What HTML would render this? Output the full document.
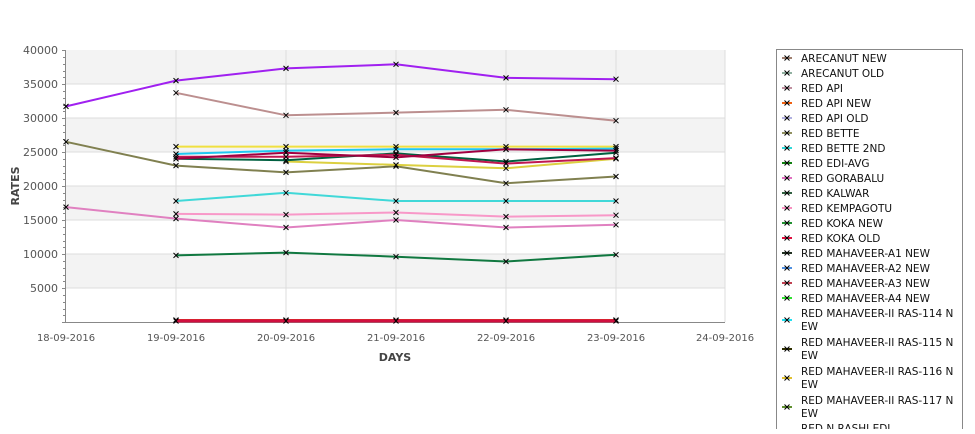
<!DOCTYPE html>
<html><head><meta charset="utf-8"><style>
body{margin:0;background:#fff;width:975px;height:429px;overflow:hidden}
svg text{font-family:"DejaVu Sans","Liberation Sans",sans-serif}
</style></head><body>
<svg width="975" height="429" xmlns="http://www.w3.org/2000/svg">
<defs><marker id="m" markerWidth="8" markerHeight="8" refX="4" refY="4" markerUnits="userSpaceOnUse"><path d="M1.5,1.5L6.5,6.5M6.5,1.5L1.5,6.5" stroke="#000" stroke-width="1"/></marker></defs>
<rect x="66" y="50" width="659" height="34" fill="#f3f3f3"/>
<rect x="66" y="118" width="659" height="34" fill="#f3f3f3"/>
<rect x="66" y="186" width="659" height="34" fill="#f3f3f3"/>
<rect x="66" y="254" width="659" height="34" fill="#f3f3f3"/>
<g stroke="#dcdcdc" stroke-width="1">
<path d="M66,84H725M66,118H725M66,152H725M66,186H725M66,220H725M66,254H725M66,288H725"/>
<path d="M176,50V322M286,50V322M396,50V322M506,50V322M616,50V322M725,50V322"/>
</g>
<g stroke="#888" fill="none"><path d="M65.5,50V322.5H725"/>
<path d="M62,50.5H66M62,84.5H66M62,118.5H66M62,152.5H66M62,186.5H66M62,220.5H66M62,254.5H66M62,288.5H66M62,322.5H66"/>
<path d="M63,57.5H66M63,64.5H66M63,71.5H66M63,77.5H66M63,91.5H66M63,98.5H66M63,105.5H66M63,111.5H66M63,125.5H66M63,132.5H66M63,139.5H66M63,145.5H66M63,159.5H66M63,166.5H66M63,173.5H66M63,179.5H66M63,193.5H66M63,200.5H66M63,207.5H66M63,213.5H66M63,227.5H66M63,234.5H66M63,241.5H66M63,247.5H66M63,261.5H66M63,268.5H66M63,275.5H66M63,281.5H66M63,295.5H66M63,302.5H66M63,309.5H66M63,315.5H66"/></g>
<g font-size="11" fill="#555" text-anchor="end">
<text x="58" y="54">40000</text><text x="58" y="88">35000</text><text x="58" y="122">30000</text><text x="58" y="156">25000</text><text x="58" y="190">20000</text><text x="58" y="224">15000</text><text x="58" y="258">10000</text><text x="58" y="292">5000</text>
</g>
<g font-size="10" fill="#555" text-anchor="middle">
<text x="66" y="341">18-09-2016</text><text x="176" y="341">19-09-2016</text><text x="286" y="341">20-09-2016</text><text x="396" y="341">21-09-2016</text><text x="506" y="341">22-09-2016</text><text x="616" y="341">23-09-2016</text><text x="725" y="341">24-09-2016</text>
</g>
<text x="395" y="361" font-size="11" font-weight="bold" fill="#444" text-anchor="middle">DAYS</text>
<text x="19" y="186" font-size="11" font-weight="bold" fill="#444" text-anchor="middle" transform="rotate(-90 19 186)">RATES</text>
<g fill="none" stroke-width="2" marker-start="url(#m)" marker-mid="url(#m)" marker-end="url(#m)">
<polyline stroke="#a020f0" points="66,106.4 176,80.6 286,68.4 396,64.3 506,77.9 616,79.2"/>
<polyline stroke="#bc8f8f" points="176,92.8 286,115.3 396,112.6 506,109.8 616,120.7"/>
<polyline stroke="#808050" points="66,141.8 176,165.6 286,172.4 396,166.3 506,183.3 616,176.5"/>
<polyline stroke="#f0e040" points="176,146.6 286,146.6 396,146.6 506,146.6 616,146.6"/>
<polyline stroke="#20c8f0" points="176,154 286,150.6 396,149.3 506,149.3 616,148.6"/>
<polyline stroke="#dcd040" points="286,161.5 396,164.9 506,168.3 616,158.8"/>
<polyline stroke="#006040" points="176,158.8 286,160.2 396,153.4 506,161.5 616,152.7"/>
<polyline stroke="#c01850" points="176,156.8 286,156.8 396,154.7 506,163.6 616,158.1"/>
<polyline stroke="#a00040" points="176,158.8 286,152.7 396,157.4 506,149.3 616,150.6"/>
<polyline stroke="#40d8d8" points="176,201 286,192.8 396,201 506,201 616,201"/>
<polyline stroke="#f898c8" points="176,213.9 286,214.6 396,212.5 506,216.6 616,215.2"/>
<polyline stroke="#e080c0" points="66,207.1 176,218.6 286,227.5 396,220 506,227.5 616,224.8"/>
<polyline stroke="#107840" points="176,255.4 286,252.6 396,256.7 506,261.5 616,254.7"/>
<polyline stroke="#e03020" points="176,320 286,320 396,320 506,320 616,320"/>
<polyline stroke="#d01040" stroke-width="3" points="176,321 286,321 396,321 506,321 616,321"/>
</g>
<rect x="776.5" y="49.5" width="186" height="390" fill="#fff" stroke="#888"/>
<g font-size="10.5" fill="#111">
<text x="801" y="62">ARECANUT NEW</text>
<text x="801" y="77">ARECANUT OLD</text>
<text x="801" y="92">RED API</text>
<text x="801" y="107">RED API NEW</text>
<text x="801" y="122">RED API OLD</text>
<text x="801" y="137">RED BETTE</text>
<text x="801" y="152">RED BETTE 2ND</text>
<text x="801" y="167">RED EDI-AVG</text>
<text x="801" y="182">RED GORABALU</text>
<text x="801" y="197">RED KALWAR</text>
<text x="801" y="212">RED KEMPAGOTU</text>
<text x="801" y="227">RED KOKA NEW</text>
<text x="801" y="242">RED KOKA OLD</text>
<text x="801" y="257">RED MAHAVEER-A1 NEW</text>
<text x="801" y="272">RED MAHAVEER-A2 NEW</text>
<text x="801" y="287">RED MAHAVEER-A3 NEW</text>
<text x="801" y="302">RED MAHAVEER-A4 NEW</text>
<text x="801" y="317">RED MAHAVEER-II RAS-114 N</text><text x="801" y="330">EW</text>
<text x="801" y="346">RED MAHAVEER-II RAS-115 N</text><text x="801" y="359">EW</text>
<text x="801" y="375">RED MAHAVEER-II RAS-116 N</text><text x="801" y="388">EW</text>
<text x="801" y="404">RED MAHAVEER-II RAS-117 N</text><text x="801" y="417">EW</text>
<text x="801" y="432">RED N RASHI EDI</text>
</g>
<g stroke-width="2" marker-mid="url(#m)" fill="none">
<polyline stroke="#a08070" points="782,58 787,58 792,58"/>
<polyline stroke="#90b0a0" points="782,73 787,73 792,73"/>
<polyline stroke="#c090a0" points="782,88 787,88 792,88"/>
<polyline stroke="#f06010" points="782,103 787,103 792,103"/>
<polyline stroke="#b0b0e0" points="782,118 787,118 792,118"/>
<polyline stroke="#909060" points="782,133 787,133 792,133"/>
<polyline stroke="#30d8d8" points="782,148 787,148 792,148"/>
<polyline stroke="#108010" points="782,163 787,163 792,163"/>
<polyline stroke="#e070c0" points="782,178 787,178 792,178"/>
<polyline stroke="#306040" points="782,193 787,193 792,193"/>
<polyline stroke="#f890c0" points="782,208 787,208 792,208"/>
<polyline stroke="#209030" points="782,223 787,223 792,223"/>
<polyline stroke="#e01040" points="782,238 787,238 792,238"/>
<polyline stroke="#203020" points="782,253 787,253 792,253"/>
<polyline stroke="#5090e0" points="782,268 787,268 792,268"/>
<polyline stroke="#c04050" points="782,283 787,283 792,283"/>
<polyline stroke="#30e030" points="782,298 787,298 792,298"/>
<polyline stroke="#20e0f0" points="782,320 787,320 792,320"/>
<polyline stroke="#303000" points="782,349 787,349 792,349"/>
<polyline stroke="#e0c030" points="782,378 787,378 792,378"/>
<polyline stroke="#609030" points="782,407 787,407 792,407"/>
</g>
</svg>
</body></html>
